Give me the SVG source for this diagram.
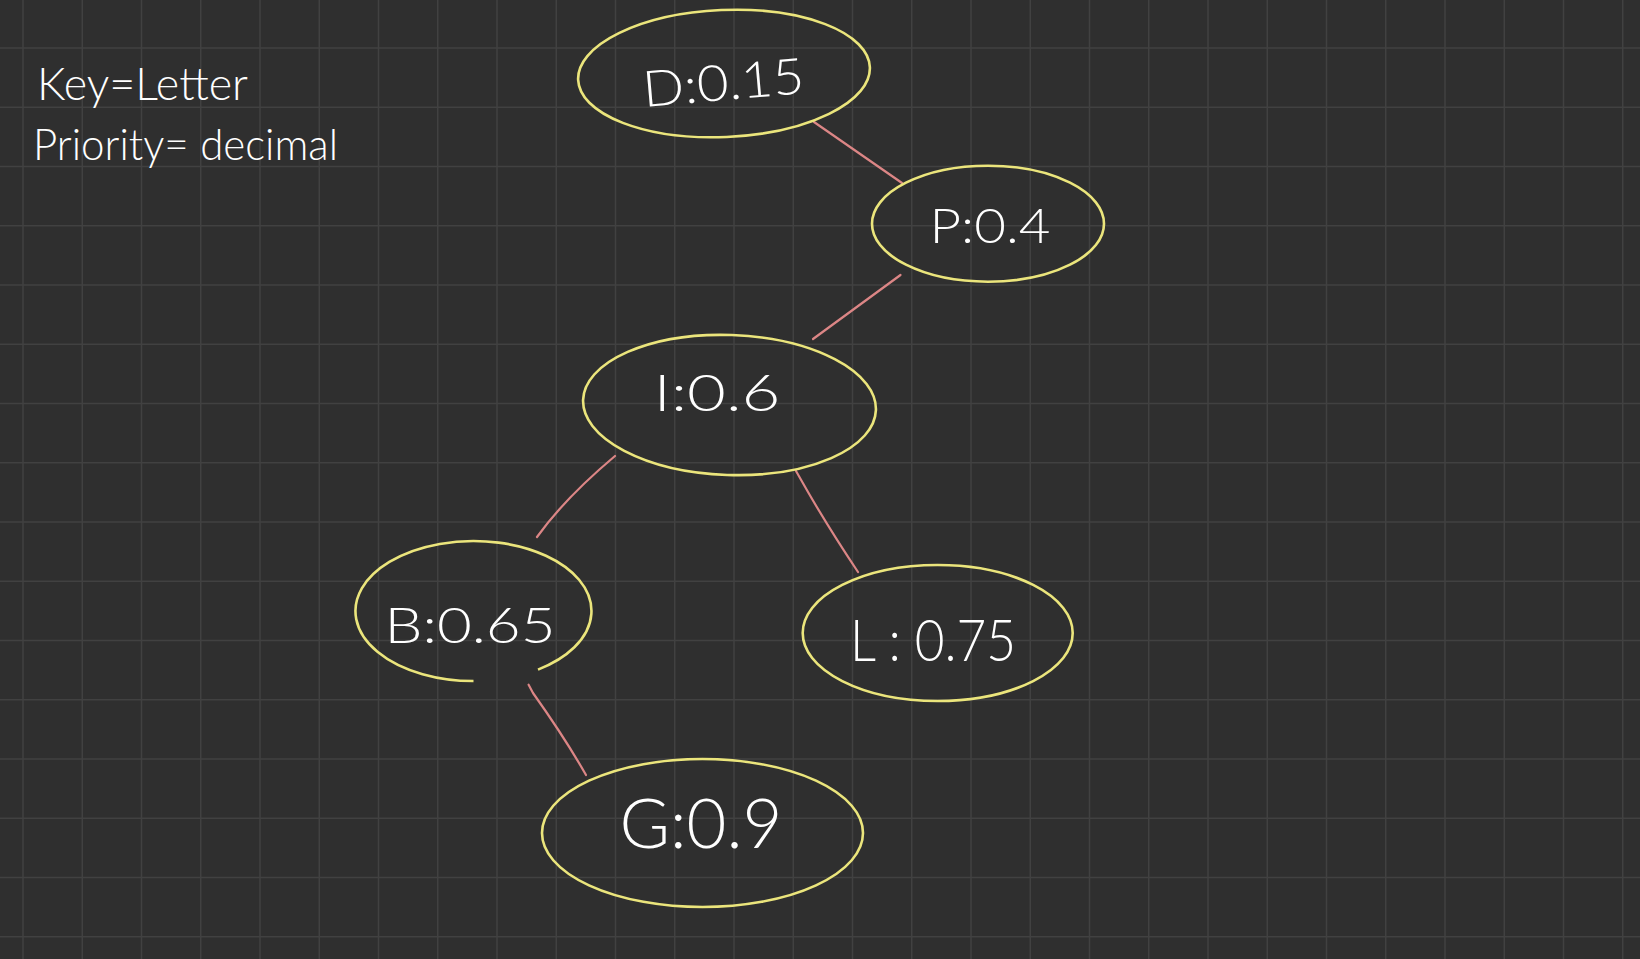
<svg xmlns="http://www.w3.org/2000/svg" width="1640" height="959" viewBox="0 0 1640 959">
<style>
.bg{fill:#2f2f2f}
.grid{stroke:#414141;stroke-width:1.5;fill:none}
.node{fill:none;stroke:#ebe57c;stroke-width:2.6}
.edge{fill:none;stroke:#dc8686;stroke-width:2.2;stroke-linecap:round}
.lbl{fill:#ffffff;font-family:"Lato","Open Sans","Liberation Sans",sans-serif;font-weight:300}
</style>
<rect class="bg" x="0" y="0" width="1640" height="959"/>
<path class="grid" d="M23 0V959M82.25 0V959M141.5 0V959M200.75 0V959M260 0V959M319.25 0V959M378.5 0V959M437.75 0V959M497 0V959M556.25 0V959M615.5 0V959M674.75 0V959M734 0V959M793.25 0V959M852.5 0V959M911.75 0V959M971 0V959M1030.25 0V959M1089.5 0V959M1148.75 0V959M1208 0V959M1267.25 0V959M1326.5 0V959M1385.75 0V959M1445 0V959M1504.25 0V959M1563.5 0V959M1622.75 0V959M0 48H1640M0 107.25H1640M0 166.5H1640M0 225.75H1640M0 285H1640M0 344.25H1640M0 403.5H1640M0 462.75H1640M0 522H1640M0 581.25H1640M0 640.5H1640M0 699.75H1640M0 759H1640M0 818.25H1640M0 877.5H1640M0 936.75H1640"/>
<g id="legend">
<text class="lbl" x="37" y="100" font-size="46" textLength="211" lengthAdjust="spacingAndGlyphs">Key=Letter</text>
<text class="lbl" x="33" y="160" font-size="44" textLength="305" lengthAdjust="spacingAndGlyphs">Priority= decimal</text>
</g>
<g id="connectors">
<path class="edge" d="M814 122L902 183"/>
<path class="edge" d="M900.5 275L813 339"/>
<path class="edge" d="M615 456Q565 498 537 537"/>
<path class="edge" d="M796 471L808 492Q830 530 858 572"/>
<path class="edge" d="M528.6 684.7L533 693Q565 738 586 775"/>
</g>
<g id="node-D">
<ellipse class="node" cx="724" cy="73.5" rx="146" ry="63.5" transform="rotate(-2.5 724 73.5)"/>
<text class="lbl" x="724" y="100" font-size="50" text-anchor="middle" textLength="162" lengthAdjust="spacingAndGlyphs" transform="rotate(-5 724 90)">D:0.15</text>
</g>
<g id="node-P">
<ellipse class="node" cx="988" cy="223.7" rx="116" ry="58"/>
<text class="lbl" x="990" y="243" font-size="48" text-anchor="middle" textLength="121" lengthAdjust="spacingAndGlyphs">P:0.4</text>
</g>
<g id="node-I">
<ellipse class="node" cx="729.5" cy="405" rx="146.5" ry="70" transform="rotate(2 729.5 405)"/>
<text class="lbl" x="717" y="411" font-size="52" text-anchor="middle" textLength="127" lengthAdjust="spacingAndGlyphs">I:0.6</text>
</g>
<g id="node-B">
<path class="node" d="M538 669.6A118 70 0 1 0 473.5 681"/>
<text class="lbl" x="470" y="643" font-size="50" text-anchor="middle" textLength="171" lengthAdjust="spacingAndGlyphs">B:0.65</text>
</g>
<g id="node-L">
<ellipse class="node" cx="937.7" cy="633" rx="135" ry="68"/>
<text class="lbl" x="933" y="661" font-size="58" text-anchor="middle" textLength="166" lengthAdjust="spacingAndGlyphs">L : 0.75</text>
</g>
<g id="node-G">
<ellipse class="node" cx="702.5" cy="833" rx="160.5" ry="74"/>
<text class="lbl" x="701" y="848" font-size="68" text-anchor="middle" textLength="163" lengthAdjust="spacingAndGlyphs">G:0.9</text>
</g>
</svg>
